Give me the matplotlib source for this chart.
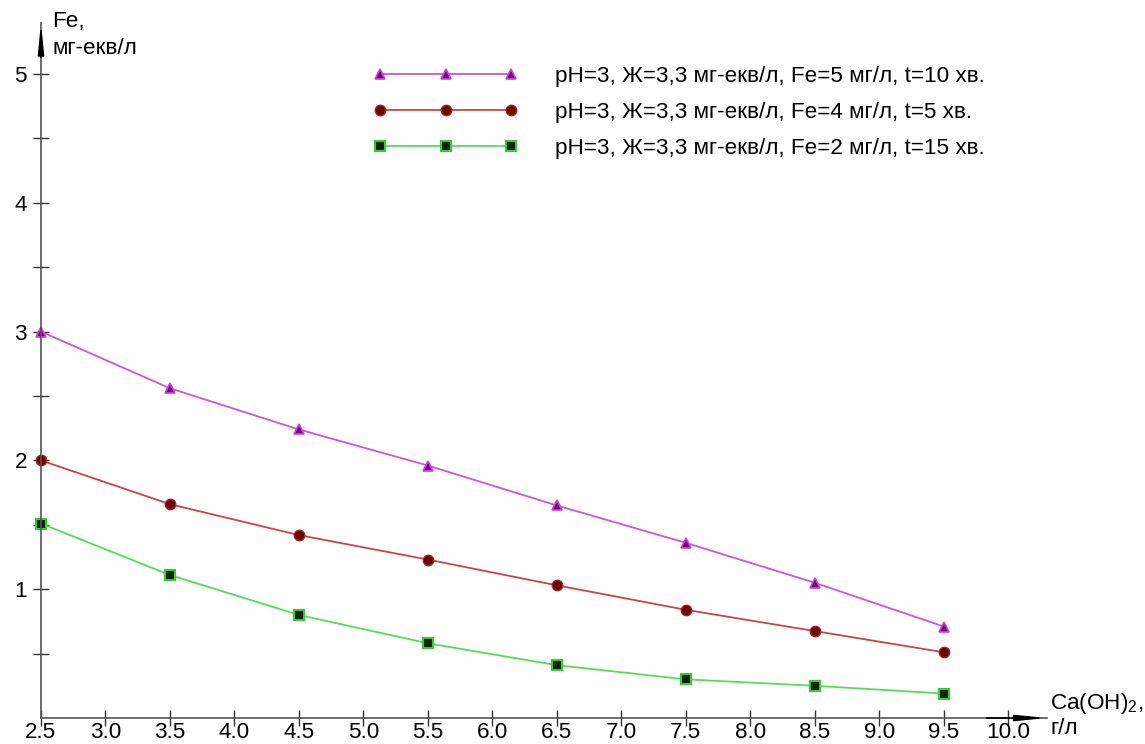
import matplotlib
matplotlib.use("Agg")
import matplotlib.pyplot as plt
import numpy as np

plt.rcParams['font.family'] = ['Liberation Sans', 'DejaVu Sans']
plt.rcParams['mathtext.fontset'] = 'custom'
plt.rcParams['mathtext.rm'] = 'Liberation Sans'
plt.rcParams['mathtext.it'] = 'Liberation Sans'

ca_oh = [2.5, 3.5, 4.5, 5.5, 6.5, 7.5, 8.5, 9.5]
fe5_t10 = [3.00, 2.56, 2.24, 1.96, 1.65, 1.36, 1.05, 0.71]
fe4_t5 = [2.00, 1.66, 1.42, 1.23, 1.03, 0.84, 0.675, 0.51]
fe2_t15 = [1.51, 1.11, 0.80, 0.58, 0.41, 0.30, 0.25, 0.19]
labels = ["pH=3, Ж=3,3 мг-екв/л, Fe=5 мг/л, t=10 хв.",
          "pH=3, Ж=3,3 мг-екв/л, Fe=4 мг/л, t=5 хв.",
          "pH=3, Ж=3,3 мг-екв/л, Fe=2 мг/л, t=15 хв."]
x_ticks = [2.5, 3.0, 3.5, 4.0, 4.5, 5.0, 5.5, 6.0, 6.5, 7.0, 7.5, 8.0, 8.5, 9.0, 9.5, 10.0]
y_ticks = [1, 2, 3, 4, 5]
y_minor = [0.5, 1.5, 2.5, 3.5, 4.5]

FS = 16.2

fig = plt.figure(figsize=(11.45, 7.44), dpi=100)
ax = fig.add_axes([41/1145, 26/744, (1047-41)/1145, (718-22.5)/744])
ax.set_xlim(2.5, 10.3)
ax.set_ylim(0, 5.4)

l1, = ax.plot(ca_oh, fe5_t10, color='#cc55dd', lw=1.3, marker='^', ms=7.5,
              mfc='#7a007a', mec='#cc44dd', mew=1.2, clip_on=False, label=labels[0])
l2, = ax.plot(ca_oh, fe4_t5, color='#cc4444', lw=1.3, marker='o', ms=7.5,
              mfc='#6a0000', mec='#aa2020', mew=1.0, clip_on=False, label=labels[1])
l3, = ax.plot(ca_oh, fe2_t15, color='#55dd55', lw=1.3, marker='s', ms=7,
              mfc='#102010', mec='#33cc33', mew=1.5, clip_on=False, label=labels[2])

for s in ['top', 'right']:
    ax.spines[s].set_visible(False)
for s in ['left', 'bottom']:
    ax.spines[s].set_color('#555555')
    ax.spines[s].set_linewidth(1.2)

ax.set_xticks(x_ticks)
ax.set_xticklabels([f"{v:.1f}" for v in x_ticks])
ax.set_yticks(y_ticks)
ax.set_yticks(y_minor, minor=True)
ax.tick_params(axis='both', which='both', direction='inout', length=12,
               width=1.0, color='#333333', labelsize=FS)
ax.tick_params(axis='x', pad=-3)
ax.tick_params(axis='y', pad=4)

# arrows on axes
ax.annotate('', xy=(1.0, 0), xytext=(0.94, 0), xycoords='axes fraction',
            arrowprops=dict(arrowstyle='-|>,head_length=1.8,head_width=0.18',
                            color='black', lw=1.2, shrinkA=0, shrinkB=0))
ax.annotate('', xy=(0, 1.0), xytext=(0, 0.95), xycoords='axes fraction',
            arrowprops=dict(arrowstyle='-|>,head_length=1.8,head_width=0.18',
                            color='black', lw=1.2, shrinkA=0, shrinkB=0))

fig.text(52/1145, 1 - 22/744, "Fe,", fontsize=FS, va='center', ha='left')
fig.text(52/1145, 1 - 48/744, "мг-екв/л", fontsize=FS, va='center', ha='left')
fig.text(1050/1145, 1 - 703/744, "Ca(OH)$_2$,", fontsize=FS, va='center', ha='left')
fig.text(1050/1145, 1 - 728/744, "г/л", fontsize=FS, va='center', ha='left')

leg = ax.legend(handles=[l1, l2, l3], numpoints=3, handlelength=6.4,
                frameon=False, fontsize=FS, labelspacing=0.66,
                handletextpad=1.68, loc='upper left',
                bbox_to_anchor=((364.5 - 41)/1006, 1.0 - (57 - 22.5)/695.5),
                borderaxespad=0)

fig.savefig('out.png', dpi=100)
